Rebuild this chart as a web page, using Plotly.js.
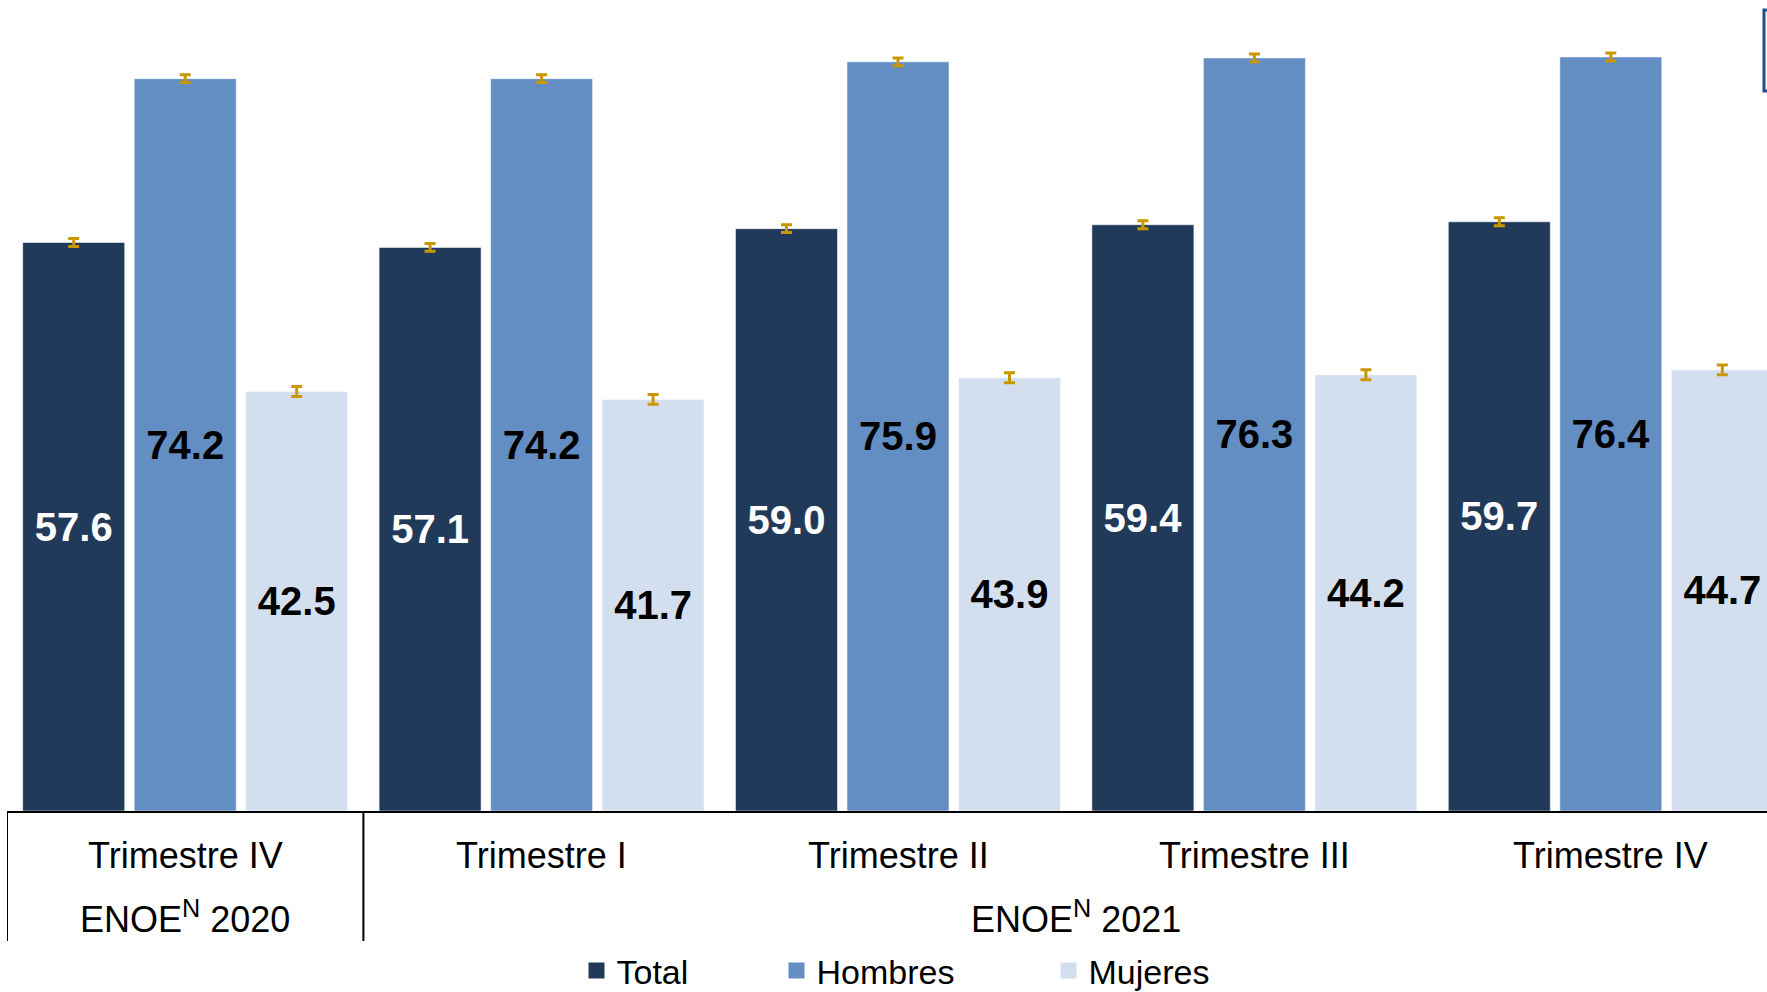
<!DOCTYPE html>
<html>
<head>
<meta charset="utf-8">
<script src="https://cdn.plot.ly/plotly-3.0.1.min.js"></script>
<style>
  html, body { margin: 0; padding: 0; background: #ffffff; overflow: hidden; }
  #chart { width: 1767px; height: 992px; }
</style>
</head>
<body>
<div id="chart"></div>
<script>
// ---- Data ----
const quarters = ['Trimestre IV', 'Trimestre I', 'Trimestre II', 'Trimestre III', 'Trimestre IV'];
const yearLabels = ['ENOE<sup>N</sup> 2020', 'ENOE<sup>N</sup> 2021'];
const yearFirstQuarter = [0, 1];
const yearLastQuarter = [0, 4];

const seriesNames = ['Total', 'Hombres', 'Mujeres'];
const total   = [57.6, 57.1, 59.0, 59.4, 59.7];
const hombres = [74.2, 74.2, 75.9, 76.3, 76.4];
const mujeres = [42.5, 41.7, 43.9, 44.2, 44.7];

const totalErr   = [0.4, 0.4, 0.4, 0.4, 0.4];
const hombresErr = [0.4, 0.4, 0.4, 0.4, 0.4];
const mujeresErr = [0.5, 0.5, 0.5, 0.5, 0.5];

// ---- Styles ----
const FONT = 'Liberation Sans, Arial, sans-serif';
const colors = ['#223A5A', '#628EC3', '#D3DFEE'];
const labelColors = ['#ffffff', '#000000', '#000000'];
const errColor = '#C99700';

const xIdx = quarters.map((_, i) => i);
const values = [total, hombres, mujeres];
const errs = [totalErr, hombresErr, mujeresErr];

const traces = [];
values.forEach((vals, k) => {
  traces.push({
    type: 'bar',
    x: xIdx,
    y: vals,
    name: seriesNames[k],
    showlegend: false,
    marker: { color: colors[k], line: { color: 'rgba(255,255,255,0.55)', width: 1 } },
    error_y: { type: 'data', array: errs[k], visible: true, color: errColor, thickness: 3, width: 5.5 },
    text: vals.map(v => v.toFixed(1)),
    textposition: 'inside',
    insidetextanchor: 'middle',
    textangle: 0,
    constraintext: 'none',
    textfont: { family: FONT, size: 40, color: labelColors[k], weight: 'bold' },
    hoverinfo: 'x+y+name'
  });
});
// legend entries (square swatches)
const legendIds = ['legend', 'legend2', 'legend3'];
seriesNames.forEach((n, k) => {
  traces.push({
    type: 'scatter', mode: 'markers', x: [null], y: [null], name: n,
    legend: legendIds[k], showlegend: true,
    marker: { symbol: 'square', size: 16, color: colors[k] },
    hoverinfo: 'skip'
  });
});

// ---- Layout geometry ----
const L = 7, PLOT_W = 1760, GROUP_W = 356.4;
const BASE = 811;                // pixel row of the baseline
const PX_PER_UNIT = 9.87;
const yTop = BASE / PX_PER_UNIT;
const py = (pix) => (BASE - pix) / BASE;   // pixel row -> paper y

const annotations = [];
quarters.forEach((q, i) => {
  annotations.push({
    x: i, xref: 'x', y: py(855), yref: 'paper', yanchor: 'middle', xanchor: 'center',
    text: q, showarrow: false, font: { family: FONT, size: 36, color: '#000000' }
  });
});
yearLabels.forEach((t, j) => {
  annotations.push({
    x: (yearFirstQuarter[j] + yearLastQuarter[j]) / 2, xref: 'x',
    y: py(917), yref: 'paper', yanchor: 'middle', xanchor: 'center',
    text: t, showarrow: false, font: { family: FONT, size: 36, color: '#000000' }
  });
});

const shapes = [];
// group separators (left edge of first year and between years)
yearFirstQuarter.forEach((f) => {
  shapes.push({
    type: 'line', xref: 'x', yref: 'paper', x0: f - 0.5, x1: f - 0.5, y0: 0, y1: py(941),
    line: { color: '#000000', width: 2 }
  });
});
// partial blue box at the top right
shapes.push({
  type: 'rect', xref: 'paper', yref: 'paper', x0: (1764 - L) / PLOT_W, x1: 1.05,
  y0: py(91), y1: py(10), line: { color: '#1F4F8F', width: 3 }, fillcolor: '#ffffff'
});

const legendCommon = {
  orientation: 'h', yref: 'paper', y: py(971), yanchor: 'middle', xanchor: 'left',
  bgcolor: 'rgba(0,0,0,0)', borderwidth: 0,
  font: { family: FONT, size: 34, color: '#000000' }, itemsizing: 'trace'
};

const layout = {
  width: 1767, height: 992,
  margin: { l: L, r: 0, t: 0, b: 992 - BASE, pad: 0, autoexpand: false },
  paper_bgcolor: '#ffffff', plot_bgcolor: '#ffffff',
  barmode: 'group', bargap: 0.0614, bargroupgap: 0.085,
  xaxis: {
    range: [-0.5, -0.5 + PLOT_W / GROUP_W], showticklabels: false, ticks: '',
    showgrid: false, zeroline: false, showline: true, linecolor: '#000000', linewidth: 2,
    fixedrange: true, automargin: false
  },
  yaxis: {
    range: [0, yTop], visible: false, showgrid: false, zeroline: false, fixedrange: true,
    automargin: false
  },
  legend:  Object.assign({}, legendCommon, { x: (576.5 - L) / PLOT_W }),
  legend2: Object.assign({}, legendCommon, { x: (776.5 - L) / PLOT_W }),
  legend3: Object.assign({}, legendCommon, { x: (1048.5 - L) / PLOT_W }),
  annotations: annotations,
  shapes: shapes,
  font: { family: FONT },
  showlegend: true
};

Plotly.newPlot('chart', traces, layout, { displayModeBar: false, staticPlot: true });
</script>
</body>
</html>
